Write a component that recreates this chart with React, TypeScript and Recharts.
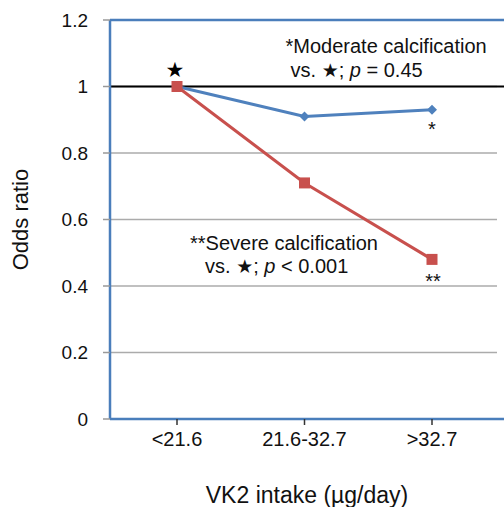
import React from 'react';
import { LineChart, Line, XAxis, YAxis, CartesianGrid, ReferenceLine, ReferenceDot } from 'recharts';

const categories = ['<21.6', '21.6-32.7', '>32.7'];
const moderateValues = [1.0, 0.91, 0.93];
const severeValues = [1.0, 0.71, 0.48];
const yTicks = [0, 0.2, 0.4, 0.6, 0.8, 1, 1.2];

const data = categories.map((c, i) => ({ cat: c, moderate: moderateValues[i], severe: severeValues[i] }));

const BLUE = '#4F81BD';
const RED = '#C8504D';
const AXIS_BLUE = '#4A7EBB';
const FONT = '"Liberation Sans", Arial, sans-serif';
const TXT = '#111';

const Diamond = (props: any) => {
  const { cx, cy, index } = props;
  const s = 5;
  return (
    <polygon
      key={`dia-${index}`}
      points={`${cx},${cy - s} ${cx + s},${cy} ${cx},${cy + s} ${cx - s},${cy}`}
      fill={BLUE}
    />
  );
};

const Square = (props: any) => {
  const { cx, cy, index } = props;
  const s = 5.5;
  return <rect key={`sq-${index}`} x={cx - s} y={cy - s} width={2 * s} height={2 * s} fill={RED} />;
};

const StarMark = (props: any) => (
  <text x={props.cx - 2} y={props.cy - 17} textAnchor="middle" dominantBaseline="central" fontSize={21} fill="#000" fontFamily="DejaVu Sans">
    ★
  </text>
);

const AsteriskOne = (props: any) => (
  <text x={props.cx} y={props.cy + 26} textAnchor="middle" fontSize={20} fill={TXT} fontFamily={FONT}>
    *
  </text>
);

const AsteriskTwo = (props: any) => (
  <text x={props.cx + 1} y={props.cy + 29} textAnchor="middle" fontSize={20} fill={TXT} fontFamily={FONT}>
    **
  </text>
);

const ModerateNote = (props: any) => (
  <g fontFamily={FONT} fontSize={20} fill={TXT}>
    <text x={props.cx - 19} y={props.cy}>*Moderate calcification</text>
    <text x={props.cx - 14} y={props.cy + 24}>
      vs. <tspan fontFamily="DejaVu Sans" fontSize={19}>★</tspan>; <tspan fontStyle="italic">p</tspan> = 0.45
    </text>
  </g>
);

const SevereNote = (props: any) => (
  <g fontFamily={FONT} fontSize={20} fill={TXT}>
    <text x={props.cx + 13} y={props.cy - 3}>**Severe calcification</text>
    <text x={props.cx + 28} y={props.cy + 20}>
      vs. <tspan fontFamily="DejaVu Sans" fontSize={19}>★</tspan>; <tspan fontStyle="italic">p</tspan> &lt; 0.001
    </text>
  </g>
);

const GridLine = (props: any) => {
  const { x1, y1, x2, y2, index } = props;
  return <line key={`g-${index}`} x1={x1} y1={y1} x2={x2 - 7} y2={y2} stroke="#ABABAB" strokeWidth={1.5} />;
};

export default function App() {
  return (
    <div style={{ position: 'absolute', left: 0, top: 0, width: 504, height: 507, background: '#fff' }}>
      <LineChart width={504} height={507} data={data} margin={{ top: 20, right: 0, bottom: 0, left: 0 }}>
        <CartesianGrid vertical={false} horizontal={GridLine} />
        <XAxis
          dataKey="cat"
          height={88}
          padding={{ left: 67, right: 72 }}
          tickSize={6}
          tickMargin={7}
          tick={{ fontSize: 20, fill: TXT, fontFamily: FONT }}
          tickLine={{ stroke: '#333', strokeWidth: 1.5 }}
          axisLine={{ stroke: AXIS_BLUE, strokeWidth: 2.5 }}
          label={{ value: 'VK2 intake (µg/day)', position: 'insideBottom', offset: 4, style: { fontSize: 23, fill: TXT, fontFamily: FONT } }}
        />
        <YAxis
          width={110}
          domain={[0, 1.2]}
          ticks={yTicks}
          tickFormatter={(v: number) => String(v)}
          tickSize={7}
          tickMargin={15}
          tick={{ fontSize: 19, fill: TXT, fontFamily: FONT }}
          tickLine={{ stroke: '#999', strokeWidth: 1.5 }}
          axisLine={{ stroke: AXIS_BLUE, strokeWidth: 2.5 }}
          label={{ value: 'Odds ratio', angle: -90, position: 'insideLeft', offset: 20, style: { textAnchor: 'middle', fontSize: 22, fill: TXT, fontFamily: FONT } }}
        />
        <ReferenceLine y={1.2} stroke={AXIS_BLUE} strokeWidth={2.5} />
        <ReferenceLine y={1} stroke="#000" strokeWidth={2} />
        <Line dataKey="moderate" stroke={BLUE} strokeWidth={3} dot={Diamond} activeDot={false} isAnimationActive={false} />
        <Line dataKey="severe" stroke={RED} strokeWidth={3} dot={Square} activeDot={false} isAnimationActive={false} />
        <ReferenceDot x={categories[0]} y={severeValues[0]} r={0} shape={StarMark} />
        <ReferenceDot x={categories[2]} y={moderateValues[2]} r={0} shape={AsteriskOne} />
        <ReferenceDot x={categories[2]} y={severeValues[2]} r={0} shape={AsteriskTwo} />
        <ReferenceDot x={categories[1]} y={1.1} r={0} shape={ModerateNote} />
        <ReferenceDot x={categories[0]} y={0.5} r={0} shape={SevereNote} />
      </LineChart>
    </div>
  );
}
